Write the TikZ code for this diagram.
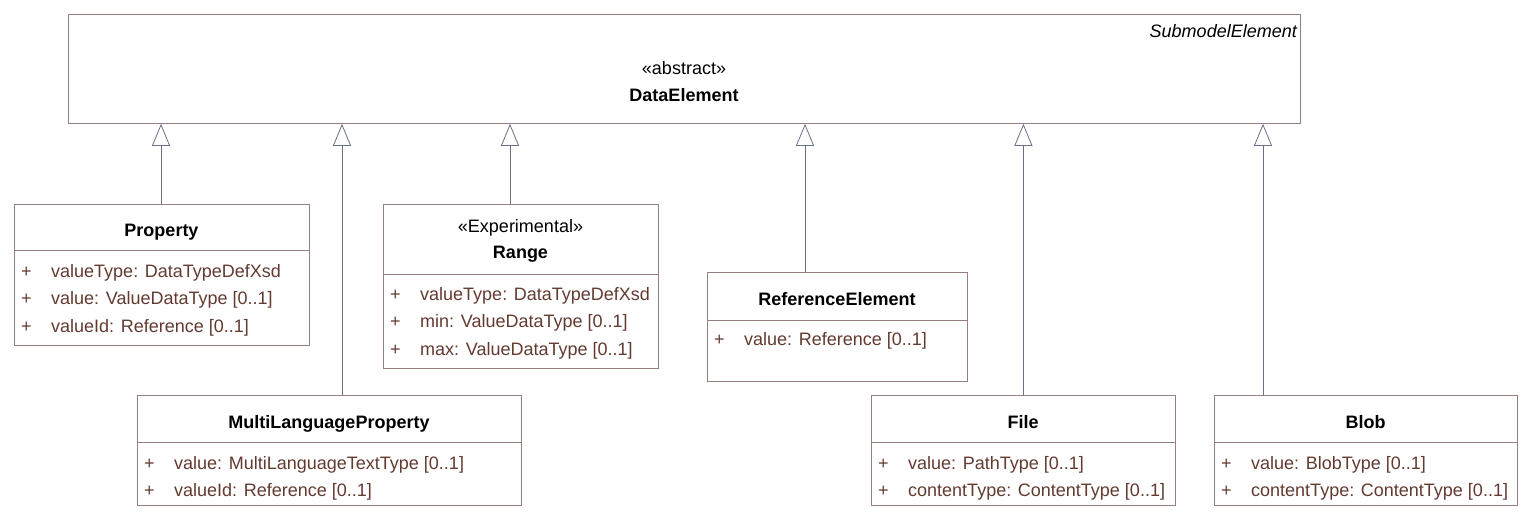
\documentclass[tikz,border=0pt]{standalone}
\usepackage{fontspec}
\setmainfont{Liberation Sans}
\usetikzlibrary{arrows.meta,positioning}

\definecolor{boxc}{RGB}{152,128,128}
\definecolor{attrc}{RGB}{98,58,48}
\definecolor{linec}{RGB}{104,112,138}
\newcommand{\dfont}{\fontsize{18}{22}\selectfont}
\newcommand{\attrline}[1]{\makebox[30pt][l]{+}#1}

\begin{document}
\begin{tikzpicture}[x=1pt,y=-1pt,font=\dfont]
  \tikzstyle{cls}=[
    draw=boxc, rectangle,
    line width=0.8pt,
    anchor=north west,
    inner sep=0pt
  ]
  \tikzstyle{ttl}=[font=\dfont\bfseries, anchor=base, inner sep=0pt]
  \tikzstyle{ster}=[anchor=base, inner sep=0pt]
  \tikzstyle{att}=[text=attrc, anchor=base west, inner sep=0pt]
  \tikzstyle{sep}=[draw=boxc, line width=0.8pt]
  \tikzstyle{gen}=[draw=linec, line width=0.8pt,
    -{Triangle[open,width=18pt,length=22pt]}]

  \useasboundingbox (0,0) rectangle (1532,520);

  % abstract superclass
  \node[cls, minimum width=1232pt, minimum height=109pt] (top) at (68,14) {};
  \node[font=\dfont\itshape, anchor=base east, inner sep=0pt] (topname) at (1297,37) {SubmodelElement};
  \node[ster] (topster) at (684,74) {«abstract»};
  \node[ttl] (toptitle) at (684,101) {DataElement};

  % Property
  \node[cls, minimum width=295pt, minimum height=141pt] (prop) at (14,204) {};
  \node[ttl] (propT) at (161.5,236) {Property};
  \draw[sep] (prop.west |- 0,250) -- (prop.east |- 0,250);
  \node[att] (prop1) at (21,277) {\attrline{valueType: DataTypeDefXsd}};
  \node[att] (prop2) at (21,304) {\attrline{value: ValueDataType [0..1]}};
  \node[att] (prop3) at (21,332) {\attrline{valueId: Reference [0..1]}};

  % MultiLanguageProperty
  \node[cls, minimum width=384pt, minimum height=110pt] (mlp) at (137,395) {};
  \node[ttl] (mlpT) at (329,428) {MultiLanguageProperty};
  \draw[sep] (mlp.west |- 0,442) -- (mlp.east |- 0,442);
  \node[att] (mlp1) at (144,469) {\attrline{value: MultiLanguageTextType [0..1]}};
  \node[att] (mlp2) at (144,496) {\attrline{valueId: Reference [0..1]}};

  % Range
  \node[cls, minimum width=275pt, minimum height=164pt] (range) at (383,204) {};
  \node[ster] (rangeS) at (520.5,232) {«Experimental»};
  \node[ttl] (rangeT) at (520.5,258) {Range};
  \draw[sep] (range.west |- 0,274) -- (range.east |- 0,274);
  \node[att] (range1) at (390,300) {\attrline{valueType: DataTypeDefXsd}};
  \node[att] (range2) at (390,327) {\attrline{min: ValueDataType [0..1]}};
  \node[att] (range3) at (390,355) {\attrline{max: ValueDataType [0..1]}};

  % ReferenceElement
  \node[cls, minimum width=260pt, minimum height=109pt] (refel) at (707,272) {};
  \node[ttl] (refelT) at (837,305) {ReferenceElement};
  \draw[sep] (refel.west |- 0,320) -- (refel.east |- 0,320);
  \node[att] (refel1) at (714,345) {\attrline{value: Reference [0..1]}};

  % File
  \node[cls, minimum width=304pt, minimum height=110pt] (file) at (871,395) {};
  \node[ttl] (fileT) at (1023,428) {File};
  \draw[sep] (file.west |- 0,442) -- (file.east |- 0,442);
  \node[att] (file1) at (878,469) {\attrline{value: PathType [0..1]}};
  \node[att] (file2) at (878,496) {\attrline{contentType: ContentType [0..1]}};

  % Blob
  \node[cls, minimum width=303pt, minimum height=110pt] (blob) at (1214,395) {};
  \node[ttl] (blobT) at (1365.5,428) {Blob};
  \draw[sep] (blob.west |- 0,442) -- (blob.east |- 0,442);
  \node[att] (blob1) at (1221,469) {\attrline{value: BlobType [0..1]}};
  \node[att] (blob2) at (1221,496) {\attrline{contentType: ContentType [0..1]}};

  % generalizations
  \draw[gen] (prop.north -| 161,0) -- (top.south -| 161,0);
  \draw[gen] (mlp.north -| 342,0) -- (top.south -| 342,0);
  \draw[gen] (range.north -| 510,0) -- (top.south -| 510,0);
  \draw[gen] (refel.north -| 805,0) -- (top.south -| 805,0);
  \draw[gen] (file.north) -- (file.north |- top.south);
  \draw[gen] (blob.north -| 1263,0) -- (top.south -| 1263,0);
\end{tikzpicture}
\end{document}
